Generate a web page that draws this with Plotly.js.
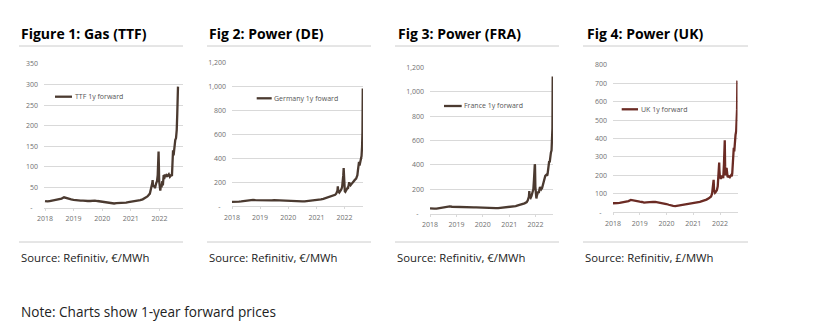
<!DOCTYPE html>
<html>
<head>
<meta charset="utf-8">
<script src="https://cdn.plot.ly/plotly-3.0.1.min.js"></script>
<style>html,body{margin:0;padding:0;background:#fff;}#chart{width:829px;height:325px;}</style>
</head>
<body>
<div id="chart"></div>
<script>
// ---------------- DATA ----------------
const monthlyDates = [];
for (let y = 2018; y <= 2021; y++) {
  for (let m = 1; m <= 12; m++) {
    if (y === 2021 && m > 8) break;
    monthlyDates.push(y + '-' + String(m).padStart(2, '0') + '-01');
  }
}
const lateDatesA = ['2021-09-01','2021-09-15','2021-10-01','2021-10-06','2021-10-12','2021-10-25','2021-11-05','2021-11-20',
  '2021-12-01','2021-12-10','2021-12-16','2021-12-21','2021-12-24','2021-12-29','2022-01-05','2022-01-12','2022-01-20',
  '2022-01-28','2022-02-07','2022-02-14','2022-02-24','2022-03-03','2022-03-10','2022-03-20','2022-04-01','2022-04-15',
  '2022-05-01','2022-05-15','2022-06-01','2022-06-10','2022-06-17','2022-06-24','2022-07-01','2022-07-08','2022-07-15',
  '2022-07-22','2022-08-01','2022-08-10','2022-08-17','2022-08-22','2022-08-26'];

const ttfMonthly = [17,16,17,18,19,20,21,23,26,24,22,21,
                    20,19,19,18,18,17,17,17,18,18,17,16,
                    15,14,13,12,11,11,12,12,13,13,13,14,
                    15,16,16,17,19,21,24,28];
const ttfLate = [35,45,60,68,52,55,48,60,65,80,105,137,112,65,48,42,55,50,65,55,80,70,82,75,80,78,82,76,80,78,110,140,128,145,150,165,170,190,230,270,295];

const deMonthly = [36,35,37,38,40,43,46,50,55,53,51,50,
                   52,50,48,48,50,49,50,49,48,48,47,45,
                   42,40,38,37,36,38,40,41,43,44,45,46,
                   50,52,57,62,68,72,78,85];
const deLate = [95,105,130,165,125,115,125,140,160,200,260,320,250,160,125,120,135,140,150,145,175,200,185,175,185,200,210,220,230,240,260,300,330,370,340,360,400,420,500,620,985];

const frMonthly = [44,40,41,42,45,48,52,56,62,60,57,56,
                   58,55,52,52,54,53,54,53,52,52,51,49,
                   47,45,43,42,41,43,45,46,48,49,50,51,
                   55,56,58,62,68,72,78,85];
const frLate = [95,110,140,185,140,130,145,170,200,280,380,405,395,220,140,125,150,165,180,170,200,220,210,200,210,240,290,310,320,310,330,380,400,430,420,480,500,520,600,700,1125];

const ukLateDates = ['2021-09-01','2021-09-15','2021-10-01','2021-10-06','2021-10-12','2021-10-25','2021-11-05','2021-11-20',
  '2021-12-01','2021-12-10','2021-12-16','2021-12-21','2021-12-24','2021-12-29','2022-01-05','2022-01-12','2022-01-20',
  '2022-01-28','2022-02-07','2022-02-14','2022-02-24','2022-03-03','2022-03-07','2022-03-12','2022-03-20','2022-04-01',
  '2022-04-08','2022-04-15','2022-05-01','2022-05-15','2022-06-01','2022-06-10','2022-06-17','2022-06-24','2022-07-01',
  '2022-07-08','2022-07-15','2022-07-22','2022-08-01','2022-08-10','2022-08-17','2022-08-22','2022-08-26'];
const ukMonthly = [48,47,49,50,52,54,56,60,66,63,60,58,
                   57,55,52,53,55,54,56,55,53,52,50,47,
                   44,40,36,34,33,35,38,40,42,44,45,46,
                   48,50,53,56,60,63,68,75];
const ukLate = [85,100,140,175,120,105,110,120,140,190,240,270,230,200,185,180,200,190,195,185,260,330,390,250,200,240,200,190,195,190,200,195,210,260,300,350,330,380,420,440,490,560,715];

const titles = ['Figure 1: Gas (TTF)', 'Fig 2: Power (DE)', 'Fig 3: Power (FRA)', 'Fig 4: Power (UK)'];
const legendNames = ['TTF 1y forward', 'Germany 1y foward', 'France 1y forward', 'UK 1y forward'];
const sources = ['Source: Refinitiv, €/MWh', 'Source: Refinitiv, €/MWh', 'Source: Refinitiv, €/MWh', 'Source: Refinitiv, £/MWh'];
const note = 'Note: Charts show 1-year forward prices';
const xTickVals = ['2018-01-01','2019-01-01','2020-01-01','2021-01-01','2022-01-01'];
const xTickText = ['2018','2019','2020','2021','2022'];
const yTicks1 = [0,50,100,150,200,250,300,350];
const yTicks1Text = ['-\u00a0\u00a0\u00a0','50','100','150','200','250','300','350'];
const yTicks2 = [0,200,400,600,800,1000,1200];
const yTicks2Text = ['-\u00a0\u00a0\u00a0','200','400','600','800','1,000','1,200'];
const yTicks4 = [0,100,200,300,400,500,600,700,800];
const yTicks4Text = ['-\u00a0\u00a0\u00a0','100','200','300','400','500','600','700','800'];

// ---------------- LAYOUT ----------------
const W = 829, H = 325;
const px = v => v / W;
const py = v => 1 - v / H;

const panels = [
  {x0:44, x1:183, yT:64, yB:208, xr:['2017-12-19','2022-10-29'], yr:[0,350], tv:yTicks1, tt:yTicks1Text,
   dates: monthlyDates.concat(lateDatesA), vals: ttfMonthly.concat(ttfLate), color:'#4b3a30',
   rule:[19,183], titleX:19, leg:[55,72,96.7]},
  {x0:232, x1:363, yT:62.8, yB:206.2, xr:['2018-01-01','2022-08-29'], yr:[0,1200], tv:yTicks2, tt:yTicks2Text,
   dates: monthlyDates.concat(lateDatesA), vals: deMonthly.concat(deLate), color:'#4b3a30',
   rule:[207,371], titleX:207, leg:[256.7,271.7,98.3]},
  {x0:430, x1:553, yT:67.3, yB:213.7, xr:['2018-01-01','2022-08-30'], yr:[0,1200], tv:yTicks2, tt:yTicks2Text,
   dates: monthlyDates.concat(lateDatesA), vals: frMonthly.concat(frLate), color:'#4b3a30',
   rule:[395,559], titleX:396, leg:[444,461.7,106]},
  {x0:613, x1:737.5, yT:65, yB:212.1, xr:['2018-01-01','2022-08-28'], yr:[0,800], tv:yTicks4, tt:yTicks4Text,
   dates: monthlyDates.concat(ukLateDates), vals: ukMonthly.concat(ukLate), color:'#6b2b24',
   rule:[583,748], titleX:585, leg:[621.7,638,109.3]}
];

const tickFont = {family:'Open Sans, sans-serif', size:7, color:'#707070'};
const traces = [];
const layout = {
  width: W, height: H, margin:{l:0,r:0,t:0,b:0},
  paper_bgcolor:'#ffffff', plot_bgcolor:'#ffffff',
  showlegend:false, shapes:[], annotations:[]
};

panels.forEach((p, i) => {
  const n = i === 0 ? '' : String(i + 1);
  traces.push({
    type:'scatter', mode:'lines', x:p.dates, y:p.vals, name:legendNames[i],
    xaxis:'x' + n, yaxis:'y' + n,
    line:{color:p.color, width:2.3}, hoverinfo:'skip'
  });
  layout['xaxis' + n] = {
    domain:[px(p.x0), px(p.x1)], anchor:'y' + n, type:'date', range:p.xr,
    tickvals:xTickVals, ticktext:xTickText, tickfont:tickFont,
    showgrid:false, zeroline:false, showline:true, linecolor:'#d9d9d9', linewidth:1,
    ticks:'outside', ticklen:2, tickcolor:'#d9d9d9', ticklabelstandoff:2, fixedrange:true
  };
  layout['yaxis' + n] = {
    domain:[py(p.yB), py(p.yT)], anchor:'x' + n, range:p.yr,
    tickvals:p.tv, ticktext:p.tt, tickfont:tickFont,
    showgrid:true, gridcolor:'#d9d9d9', gridwidth:1, zeroline:false, showline:false,
    ticks:'', ticklabelstandoff:5, fixedrange:true
  };
  layout.annotations.push({
    xref:'paper', yref:'paper', x:px(p.titleX), y:py(33), xanchor:'left', yanchor:'middle',
    text:'<b>' + titles[i] + '</b>', showarrow:false,
    font:{family:'Open Sans, sans-serif', size:14, color:'#000000'}
  });
  layout.shapes.push({type:'line', xref:'paper', yref:'paper', x0:px(p.rule[0]), x1:px(p.rule[1]), y0:py(46), y1:py(46),
    line:{color:'#cccccc', width:1}});
  layout.shapes.push({type:'line', xref:'paper', yref:'paper', x0:px(p.rule[0]), x1:px(p.rule[1]), y0:py(242), y1:py(242),
    line:{color:'#cccccc', width:1}});
  layout.annotations.push({
    xref:'paper', yref:'paper', x:px(p.rule[0]), y:py(257.5), xanchor:'left', yanchor:'middle',
    text:sources[i], showarrow:false,
    font:{family:'Open Sans, sans-serif', size:11.3, color:'#222222'}
  });
  layout.shapes.push({type:'line', xref:'paper', yref:'paper', x0:px(p.leg[0]), x1:px(p.leg[1]), y0:py(p.leg[2]), y1:py(p.leg[2]),
    line:{color:p.color, width:2.3}});
  layout.annotations.push({
    xref:'paper', yref:'paper', x:px(p.leg[1] + 0.5), y:py(p.leg[2]), xanchor:'left', yanchor:'middle',
    text:legendNames[i], showarrow:false,
    font:{family:'Open Sans, sans-serif', size:7, color:'#555555'}
  });
});

layout.annotations.push({
  xref:'paper', yref:'paper', x:px(19), y:py(311), xanchor:'left', yanchor:'middle',
  text:note, showarrow:false,
  font:{family:'Open Sans, sans-serif', size:13.6, color:'#222222'}
});

Plotly.newPlot('chart', traces, layout, {displayModeBar:false, staticPlot:true});
</script>
</body>
</html>
